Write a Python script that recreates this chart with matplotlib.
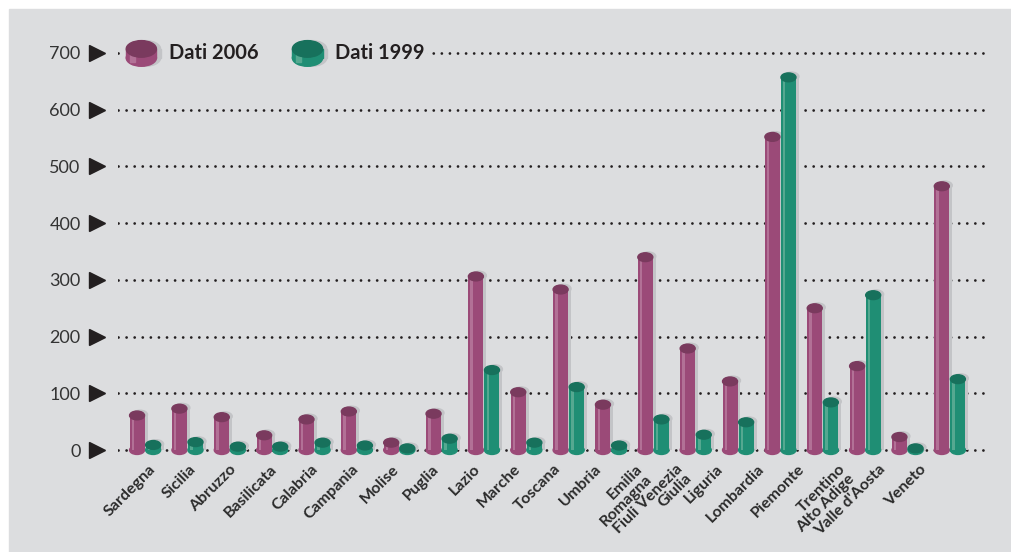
import numpy as np
import matplotlib.pyplot as plt
from matplotlib.patches import Ellipse, Rectangle
from matplotlib.legend_handler import HandlerBase

regions = ["Sardegna", "Sicilia", "Abruzzo", "Basilicata", "Calabria", "Campania",
           "Molise", "Puglia", "Lazio", "Marche", "Toscana", "Umbria",
           "Emilia\nRomagna", "Fiuli Venezia\nGiulia", "Liguria", "Lombardia",
           "Piemonte", "Trentino\nAlto Adige", "Valle d'Aosta", "Veneto"]
dati_2006 = [61, 73, 58, 26, 54, 68, 13, 64, 306, 102, 283, 80, 340, 179, 121, 552, 250, 148, 23, 465]
dati_1999 = [9, 14, 6, 6, 13, 8, 3, 20, 141, 13, 111, 8, 54, 27, 49, 657, 84, 273, 3, 125]
yticks = [0, 100, 200, 300, 400, 500, 600, 700]

BG = "#dcdddf"
SHADOW = "#c3c4c7"
PLUM = dict(body="#9b4a78", light="#b27196", top="#7a3a5e")
TEAL = dict(body="#1f8e74", light="#55a890", top="#17715c")

plt.rcParams["font.family"] = ["Lato", "DejaVu Sans"]


class Cyl:
    def __init__(self, colors):
        self.colors = colors


class CylHandler(HandlerBase):
    def create_artists(self, legend, orig_handle, xdescent, ydescent,
                       width, height, fontsize, trans):
        c = orig_handle.colors
        x0 = -xdescent
        w = width
        yc = -ydescent + height / 2
        eh = w * 0.55
        bh = w * 0.3
        base = yc - bh / 2 - 1
        top = yc + bh / 2 - 1
        arts = []
        for dx, col_b, col_t in [(3, SHADOW, SHADOW), (0, c["body"], c["top"])]:
            arts.append(Ellipse((x0 + w / 2 + dx, base), w, eh, color=col_b))
            arts.append(Rectangle((x0 + dx, base), w, bh, color=col_b))
            if dx == 0:
                arts.append(Rectangle((x0 + w * 0.12, base - eh * 0.25), w * 0.18, bh + eh * 0.2,
                                      color=c["light"]))
            arts.append(Ellipse((x0 + w / 2 + dx, top), w, eh, color=col_t))
        for a in arts:
            a.set_transform(trans)
        return arts


fig = plt.figure(figsize=(10.12, 5.52), dpi=100)
fig.patch.set_facecolor("white")
fig.add_artist(Rectangle((9 / 1012, 0), 1, (552 - 9) / 552, transform=fig.transFigure,
                         color=BG, zorder=-10))

ax = fig.add_axes([118 / 1012, (552 - 458) / 552, 867 / 1012, 413 / 552])
ax.set_facecolor("none")

x = np.arange(len(regions))
w = 0.354
off = 0.19
eh = 15.5
sh = 0.07

for vals, c, sgn in [(dati_2006, PLUM, -1), (dati_1999, TEAL, 1)]:
    xs = x + sgn * off
    v = np.array(vals)
    # shadow
    ax.bar(xs + sh, v + 1.5, w, color=SHADOW, zorder=1)
    # body
    ax.bar(xs, v, w, color=c["body"], zorder=2)
    ax.bar(xs - w * 0.28, v, w * 0.16, color=c["light"], zorder=2.1)
    for xi, vi in zip(xs, v):
        ax.add_patch(Ellipse((xi + sh, vi + 1.5), w, eh, color=SHADOW, zorder=1))
        ax.add_patch(Ellipse((xi, 0), w, eh, color=c["body"], zorder=2))
        ax.add_patch(Ellipse((xi, vi), w, eh, color=c["top"], zorder=2.2))

ax.set_xlim(-0.64, len(regions) - 1 + 0.83)
ax.set_ylim(-14, 714)

ax.set_yticks(yticks, [str(t) for t in yticks], fontsize=13, color="#333333")
ax.tick_params(axis="y", length=0, pad=27)
ax.grid(axis="y", color="#231f20", linewidth=2.0, linestyle=(0, (0.01, 2.9)),
        dash_capstyle="round", zorder=0.5)
ax.set_axisbelow(True)
ax.plot([-0.024] * len(yticks), yticks, ls="none", marker=">", ms=11, color="#231f20",
        transform=ax.get_yaxis_transform(), clip_on=False)

# tick labels sit slightly tighter than the bar groups
lbl_x = x * 0.958 + 0.07
ax.set_xticks(lbl_x, regions, rotation=45, ha="right", va="top", rotation_mode="anchor",
              multialignment="right", linespacing=0.95, fontsize=11.5, fontweight="bold",
              color="#2b2b2b")
ax.tick_params(axis="x", length=0, pad=3)

for s in ax.spines.values():
    s.set_visible(False)

leg = ax.legend([Cyl(PLUM), Cyl(TEAL)], ["Dati 2006", "Dati 1999"],
                handler_map={Cyl: CylHandler()}, ncol=2, loc="center left",
                bbox_to_anchor=(0.006, 700), bbox_transform=ax.get_yaxis_transform(),
                borderaxespad=0, borderpad=0.15, handlelength=1.5, handleheight=1.0,
                handletextpad=0.6, columnspacing=1.7, frameon=True, fancybox=False,
                prop=dict(size=14.5, weight="bold"), labelcolor="#231f20")
leg.get_frame().set_facecolor(BG)
leg.get_frame().set_edgecolor("none")
leg.get_frame().set_alpha(1)
leg.set_zorder(5)

fig.savefig("out.png", dpi=100)
